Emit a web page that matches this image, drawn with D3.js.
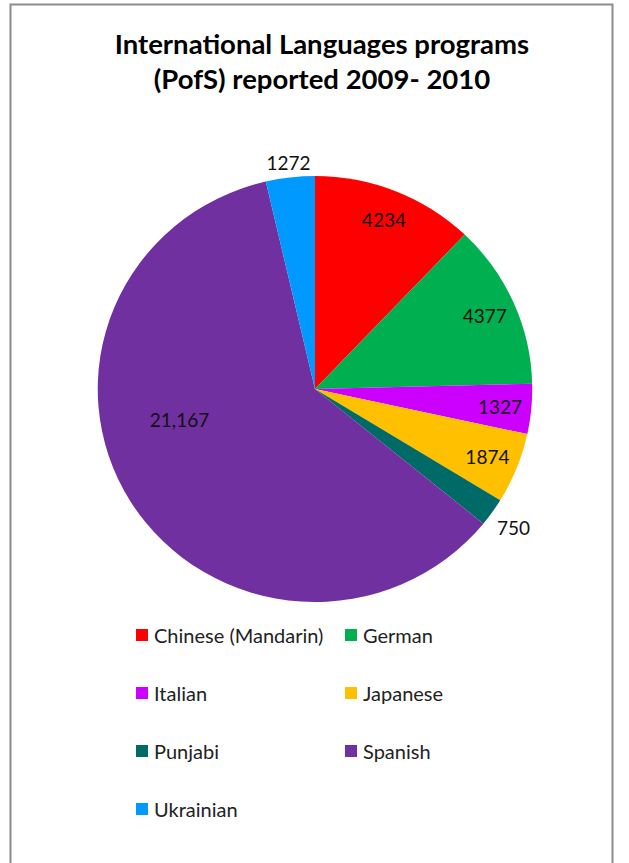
<!DOCTYPE html>
<html><head><meta charset="utf-8">
<script src="https://cdn.jsdelivr.net/npm/d3@7"></script>
<style>body{margin:0;background:#fff}svg{display:block}</style>
</head><body>
<svg id="c" width="629" height="863"></svg>
<script>
const categories = ["Chinese (Mandarin)", "German", "Italian", "Japanese", "Punjabi", "Spanish", "Ukrainian"];
const values = [4234, 4377, 1327, 1874, 750, 21167, 1272];
const valueLabels = ["4234", "4377", "1327", "1874", "750", "21,167", "1272"];
const colors = ["#FF0000", "#00B050", "#CC00FF", "#FFC000", "#006B66", "#7030A0", "#0099FF"];
const titleLines = ["International Languages programs", "(PofS) reported 2009- 2010"];

const svg = d3.select("#c");
const font = "Lato, 'Open Sans', sans-serif";

// frame
svg.append("path").attr("d", "M10.5,863 V4.5 H612.5 V863")
  .attr("fill", "none").attr("stroke", "#8c8c8c").attr("stroke-width", 2);

// title
svg.append("g").selectAll("text").data(titleLines).join("text")
  .attr("x", 322).attr("y", (d, i) => 54 + i * 35)
  .attr("text-anchor", "middle").attr("font-family", font)
  .attr("font-weight", "bold").attr("font-size", 27.5).attr("fill", "#000")
  .text(d => d);

const cx = 315, cy = 389, r = 213, sx = 1.02;
const pie = d3.pie().sort(null).value(d => d);
const arcs = pie(values);
const arc = d3.arc().innerRadius(0).outerRadius(r);

const g = svg.append("g").attr("transform", `translate(${cx},${cy}) scale(${sx},1)`);
g.selectAll("path").data(arcs).join("path")
  .attr("d", arc).attr("fill", (d, i) => colors[i]);

// label placement: radius factor and angle shift (degrees)
const place = i => {
  const v = values[i];
  if (v === d3.max(values)) return {k: 0.64, da: 19};
  if (v < 1000) return {k: 1.12, da: 0};
  if (v < 1300) return {k: 1.07, da: 0};
  return {k: 0.855, da: 0};
};
svg.append("g").selectAll("text").data(arcs).join("text")
  .attr("transform", (d, i) => {
    const p = place(i);
    const a = (d.startAngle + d.endAngle) / 2 + p.da * Math.PI / 180;
    const x = cx + Math.sin(a) * r * p.k * sx;
    const y = cy - Math.cos(a) * r * p.k;
    return `translate(${x},${y})`;
  })
  .attr("text-anchor", "middle").attr("dominant-baseline", "central")
  .attr("font-family", font).attr("font-size", 19).attr("fill", "#111")
  .text((d, i) => valueLabels[i]);

// legend
const leg = svg.append("g");
const items = leg.selectAll("g").data(categories).join("g")
  .attr("transform", (d, i) => `translate(${i % 2 === 0 ? 136 : 345},${635 + Math.floor(i / 2) * 58})`);
items.append("rect").attr("x", 0).attr("y", -6).attr("width", 12).attr("height", 12)
  .attr("fill", (d, i) => colors[i]);
items.append("text").attr("x", 18).attr("y", 0).attr("dominant-baseline", "central")
  .attr("font-family", font).attr("font-size", 20).attr("fill", "#222").text(d => d);
</script>
</body></html>
